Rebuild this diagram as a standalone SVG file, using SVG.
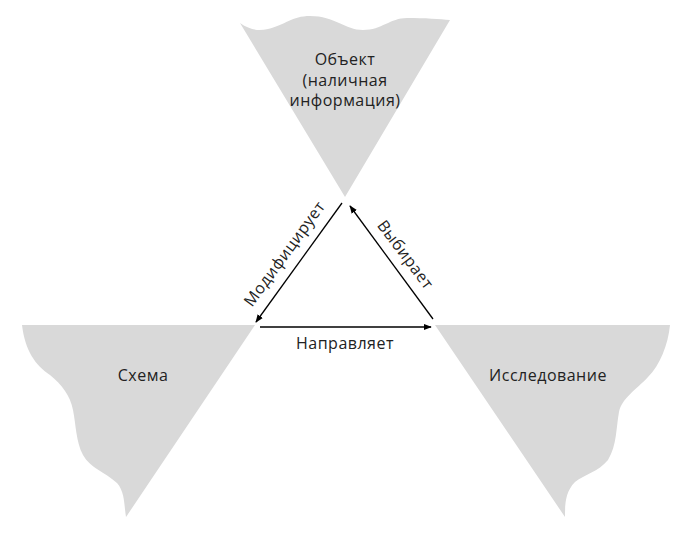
<svg xmlns="http://www.w3.org/2000/svg" width="695" height="535" viewBox="0 0 695 535">
<defs>
<style>
.shape{fill:#d9d9d9;stroke:none}
.t{font-family:"Open Sans","Liberation Sans",sans-serif;font-size:16px;letter-spacing:0.5px;fill:#222;text-anchor:middle}
.c{stroke:#000;stroke-width:1.3;fill:none;marker-end:url(#ah)}
</style>
<marker id="ah" viewBox="0 0 10 10" refX="9" refY="5" markerWidth="8" markerHeight="8" markerUnits="userSpaceOnUse" orient="auto">
<path d="M0,1 L10,5 L0,9 Z" fill="#000"/>
</marker>
</defs>
<rect width="695" height="535" fill="#fff"/>
<g id="node-object">
<path class="shape" d="M240,23 C250,30 258,31 268,29 C285,25 292,16 310,16 C335,16 345,30 363,30 C382,30 390,18 407,18 C425,18 440,19 450,20 L345,197 Z"/>
<text class="t" x="345" y="65">Объект</text>
<text class="t" x="345" y="86">(наличная</text>
<text class="t" x="345" y="106">информация)</text>
</g>
<g id="node-scheme">
<path class="shape" d="M22,325 L255,325 L126,517 C124,505 125,492 117,483 C105,472 90,468 83,455 C76,442 76,425 73,410 C70,395 62,385 50,375 C35,365 25,350 22,325 Z"/>
<text class="t" x="143" y="381">Схема</text>
</g>
<g id="node-research">
<path class="shape" d="M435,325 L670,325 C668,345 660,365 648,377 C636,390 622,398 619,412 C616,428 617,445 608,460 C598,472 585,474 575,482 C565,492 565,505 565,517 Z"/>
<text class="t" x="548" y="381">Исследование</text>
</g>
<g id="connectors">
<line class="c" x1="342" y1="203" x2="256" y2="322"/>
<line class="c" x1="433" y1="319" x2="350" y2="206"/>
<line class="c" x1="260" y1="327" x2="431" y2="327"/>
<text class="t" transform="translate(289,257) rotate(-54)" x="0" y="0">Модифицирует</text>
<text class="t" transform="translate(401,258) rotate(53)" x="0" y="0">Выбирает</text>
<text class="t" x="345" y="349">Направляет</text>
</g>
</svg>
